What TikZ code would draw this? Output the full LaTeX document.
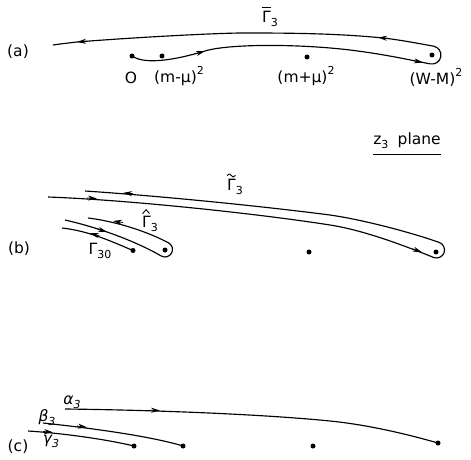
\documentclass[tikz,border=0pt]{standalone}
\usepackage{fontspec}
\setmainfont{DejaVu Sans}
\usetikzlibrary{arrows.meta}
\newcommand{\lsub}[1]{\raisebox{-0.5ex}{\fontsize{11}{11}\selectfont #1}}
\newcommand{\lsup}[1]{\raisebox{0.95ex}{\fontsize{11}{11}\selectfont #1}}
\newcommand{\Gbar}{\rlap{\raisebox{0.9em}{\rule{0.55em}{1pt}}}Γ}
\begin{document}
\begin{tikzpicture}[x=1pt,y=1pt,
  lbl/.style={inner sep=0pt, font=\fontsize{15.5}{15.5}\selectfont},
  blob/.style={circle, fill, inner sep=0pt, minimum size=5pt},
  contour/.style={line width=1.15pt, line join=round},
  accentline/.style={line width=0.9pt, line join=round, line cap=round},
  arrowmark/.style={-{Stealth[length=9pt,width=5pt]}, line width=0.8pt}]
\useasboundingbox (0,0) rectangle (471,-460);

% ---------------- (a)
\node[blob] (O)  at (132,-56) {};
\node[blob] (mm) at (162,-56) {};
\node[blob] (mp) at (307,-57) {};
\node[blob] (WM) at (432,-55) {};
\node[lbl] (la)  at (18,-52) {(a)};
\node[lbl] (lO)  at (131,-78) {O};
\node[lbl] (lmm) at (179,-76) {(m-μ)\lsup{2}};
\node[lbl] (lmp) at (306,-76) {(m+μ)\lsup{2}};
\node[lbl] (lWM) at (436,-77) {(W-M)\lsup{2}};
\node[lbl] (lG)  at (270,-17) {\Gbar\lsub{3}};

\draw[contour] (O.center) .. controls (142,-63) and (165,-63) .. (205,-51)
  .. controls (230,-43.5) and (300,-44) .. (350,-50)
  .. controls (390,-55) and (415,-61.2) .. (430.4,-63.9)
  arc[start angle=-100, end angle=80, radius=9]
  .. controls (415,-42.8) and (395,-39) .. (378,-37.5)
  .. controls (330,-33) and (280,-33) .. (240,-33)
  .. controls (200,-33.7) and (120,-38.5) .. (77,-42)
  .. controls (68,-43) and (60,-44) .. (53,-45);
\draw[arrowmark] (87,-41.2) -- (77,-42);
\draw[arrowmark] (388,-38.4) -- (378,-37.5);
\draw[arrowmark] (195.5,-53.8) -- (205,-51);
\draw[arrowmark] (413,-60.6) -- (423,-62.4);

% ---------------- (b)
\node[lbl] (zp) at (407,-141) {z\lsub{3}\hspace{0.6em}plane};
\draw[line width=1pt] ([yshift=-5pt]zp.south west) -- ([yshift=-5pt]zp.south east);
\node[blob] (T)   at (436,-252) {};
\node[blob] (mp2) at (309,-252) {};
\node[blob] (H)   at (165,-250) {};
\node[blob] (G0)  at (133,-250.5) {};
\node[lbl] (lb)  at (19,-249) {(b)};
\node[lbl] (lGt) at (235,-187) {Γ\lsub{3}};
\draw[accentline] ([xshift=0.3pt,yshift=3.5pt]lGt.north west)
  sin ++(2,1.6) cos ++(2,-1.6) sin ++(2,-1.6) cos ++(2,1.6);
\node[lbl] (lGh) at (150,-224) {Γ\lsub{3}};
\draw[accentline] ([xshift=0.8pt,yshift=2.5pt]lGh.north west)
  -- ++(3.3,3.8) -- ++(3.3,-3.8);
\node[lbl] (lG0) at (100,-251) {Γ\lsub{30}};

\draw[contour] (48,-197) .. controls (130,-200) and (260,-214) .. (330,-225)
  .. controls (365,-230.5) and (405,-246) .. (433.8,-257.5)
  arc[start angle=-110, end angle=70, radius=8]
  .. controls (415,-233.7) and (365,-220) .. (330,-215)
  .. controls (260,-206) and (160,-196) .. (85,-191);
\draw[arrowmark] (133,-193.7) -- (123,-193);
\draw[arrowmark] (87,-198) -- (97,-198.5);
\draw[arrowmark] (412.7,-248.8) -- (422,-252.3);

\draw[contour] (65,-220) .. controls (100,-228) and (135,-241) .. (161.5,-256.1)
  arc[start angle=-118, end angle=62, radius=7.5]
  .. controls (150,-233) and (120,-222) .. (88,-218);
\draw[arrowmark] (123,-222.5) -- (113,-221);
\draw[arrowmark] (97.5,-229) -- (107,-232);

\draw[contour] (G0.center) .. controls (115,-243) and (90,-231) .. (62,-228);
\draw[arrowmark] (99.5,-236) -- (90,-233);

% ---------------- (c)
\node[blob] (ea)  at (438,-443) {};
\node[blob] (eb)  at (183,-446) {};
\node[blob] (eg)  at (134,-446) {};
\node[blob] (mp3) at (313,-446) {};
\node[lbl] (lc) at (18,-447) {(c)};
\node[lbl] (lal) at (72,-402) {\itshape α\lsub{3}};
\node[lbl] (lbe) at (47,-418) {\itshape β\lsub{3}};
\node[lbl] (lga) at (51,-441) {\itshape γ\lsub{3}};

\draw[contour] (65,-409) .. controls (150,-410) and (260,-414) .. (330,-421)
  .. controls (370,-425) and (410,-435) .. (ea.center);
\draw[contour] (43,-423) .. controls (90,-428) and (150,-436) .. (eb.center);
\draw[contour] (28,-431) .. controls (60,-433) and (105,-439) .. (eg.center);
\draw[arrowmark] (150,-410.2) -- (160,-410.5);
\draw[arrowmark] (77,-426) -- (87,-427.3);
\draw[arrowmark] (43,-431.5) -- (53,-432.3);
\end{tikzpicture}
\end{document}
